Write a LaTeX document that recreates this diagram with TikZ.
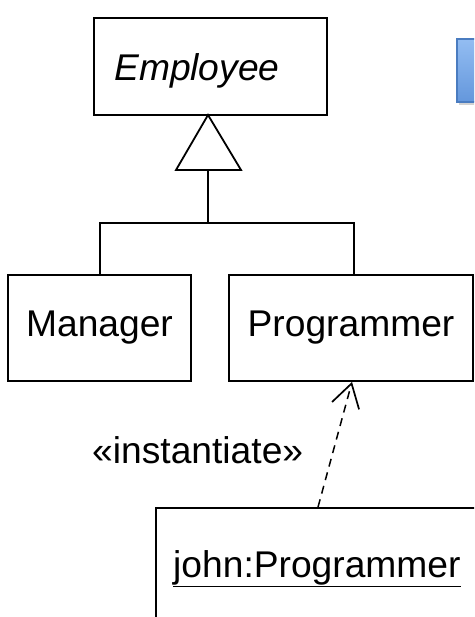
\documentclass[tikz,border=0pt]{standalone}
\usepackage{fontspec}
\setmainfont{Liberation Sans}
\usetikzlibrary{arrows.meta,shadows}
\definecolor{bluefillTop}{HTML}{93BDF2}
\definecolor{bluefillBot}{HTML}{6497DC}
\definecolor{blueborder}{HTML}{4A7CC0}
\tikzset{
  umlbox/.style={draw=black, line width=1.8pt, fill=white, inner sep=0pt,
    font=\fontsize{37.2}{44}\selectfont},
  conn/.style={draw=black, line width=1.8pt},
  realize/.style={draw=black, line width=1.5pt, dash pattern=on 8pt off 6pt,
    -{Straight Barb[length=23pt,width=28pt,line width=1.7pt]}},
  lbl/.style={inner sep=0pt, font=\fontsize{37.2}{44}\selectfont},
  gentri/.style={draw=black, line width=1.8pt, fill=white}
}
\begin{document}
\begin{tikzpicture}[x=1pt,y=-1pt]
\clip (0,0) rectangle (474,617);
\fill[white] (0,0) rectangle (474,617);
% blue box (partially visible)
\node[draw=blueborder, line width=1.4pt, top color=bluefillTop, bottom color=bluefillBot,
  drop shadow={shadow xshift=2pt, shadow yshift=-3pt, opacity=0.35},
  minimum width=80pt, minimum height=63pt, inner sep=0pt] (blue) at (497,70.5) {};
% classes
\node[umlbox, minimum width=233pt, minimum height=97pt] (emp) at (210.5,66.5) {};
\node[lbl, anchor=base west] (emptext) at (114,81) {\itshape Employee};
\node[umlbox, minimum width=183pt, minimum height=106pt] (mgr) at (99.5,328) {Manager};
\node[umlbox, minimum width=244pt, minimum height=106pt] (prog) at (351,328) {Programmer};
% generalization
\coordinate (apex) at (208,115);
\coordinate (tl) at (176,170);
\coordinate (tr) at (241,170);
\coordinate (tb) at (208,170);
\coordinate (bar) at (208,223);
\draw[gentri] (apex) -- (tr) -- (tl) -- cycle;
\draw[conn] (tb) -- (bar);
\draw[conn] (mgr.north -| 100,0) |- (bar) -| (prog.north -| 354,0);
% object
\node[umlbox, minimum width=324pt, minimum height=112pt] (john) at (318,564) {};
\node[lbl, anchor=base west] (johntext) at (173,577) {\underline{john:Programmer}};
% instantiate dependency
\draw[realize] (john.north) -- ([xshift=1pt]prog.south);
\node[lbl, anchor=base west] (inst) at (92,463) {«instantiate»};
\end{tikzpicture}
\end{document}
